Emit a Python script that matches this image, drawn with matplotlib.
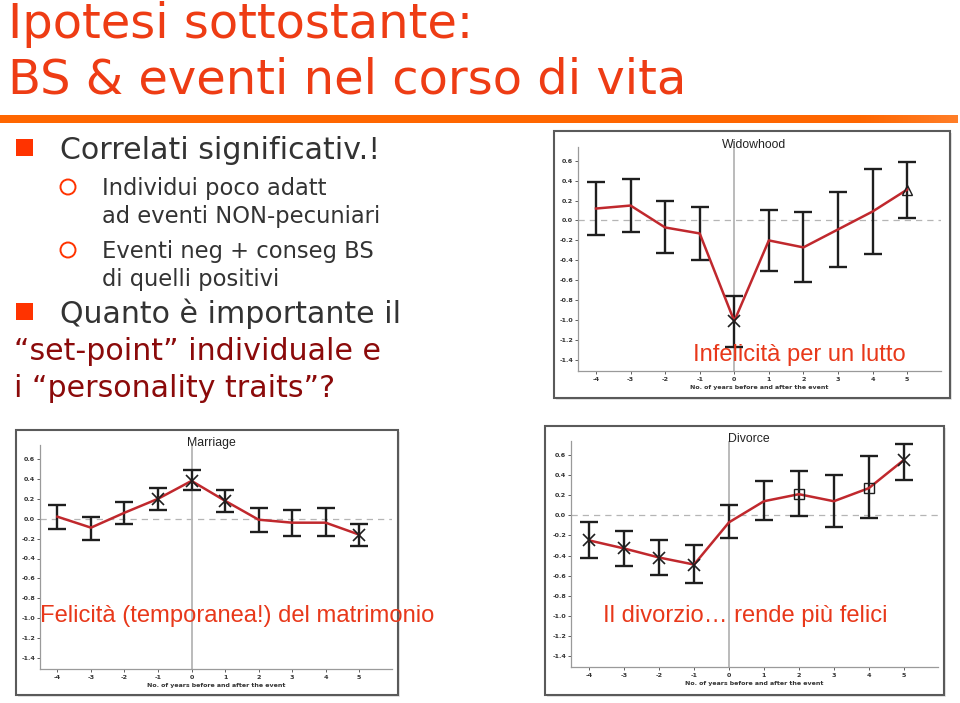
import matplotlib
matplotlib.use("Agg")
import matplotlib.pyplot as plt
from matplotlib.patches import Rectangle, Ellipse
import numpy as np

plt.rcParams['axes.unicode_minus'] = False

# ---------------- data ----------------
years = [-4, -3, -2, -1, 0, 1, 2, 3, 4, 5]

widow_mean = [0.12, 0.15, -0.07, -0.13, -1.01, -0.20, -0.27, -0.09, 0.09, 0.31]
widow_lo = [-0.15, -0.12, -0.33, -0.40, -1.27, -0.51, -0.62, -0.47, -0.34, 0.03]
widow_hi = [0.39, 0.42, 0.20, 0.14, -0.76, 0.11, 0.09, 0.29, 0.52, 0.59]
widow_markers = [None, None, None, None, 'x', None, None, None, None, '^']

marriage_mean = [0.02, -0.09, 0.06, 0.20, 0.38, 0.18, -0.01, -0.04, -0.04, -0.16]
marriage_lo = [-0.10, -0.21, -0.05, 0.09, 0.29, 0.07, -0.13, -0.17, -0.17, -0.27]
marriage_hi = [0.14, 0.02, 0.17, 0.31, 0.49, 0.29, 0.11, 0.09, 0.11, -0.05]
marriage_markers = [None, None, None, 'x', 'x', 'x', None, None, None, 'x']

divorce_mean = [-0.25, -0.33, -0.42, -0.49, -0.07, 0.14, 0.21, 0.14, 0.27, 0.55]
divorce_lo = [-0.42, -0.50, -0.59, -0.67, -0.23, -0.05, -0.01, -0.12, -0.03, 0.35]
divorce_hi = [-0.07, -0.16, -0.25, -0.30, 0.10, 0.34, 0.44, 0.40, 0.59, 0.71]
divorce_markers = ['x', 'x', 'x', 'x', None, None, 's', None, 's', 'x']

ytick_values = [0.6, 0.4, 0.2, 0.0, -0.2, -0.4, -0.6, -0.8, -1.0, -1.2, -1.4]
ytick_labels = ["0.6", "0.4", "0.2", "0.0", "-0.2", "-0.4", "-0.6", "-0.8", "-1.0", "-1.2", "-1.4"]
xtick_labels = ["-4", "-3", "-2", "-1", "0", "1", "2", "3", "4", "5"]
xlabel_text = "No. of years before and after the event"

# ---------------- figure ----------------
W, H = 960, 703
fig = plt.figure(figsize=(9.6, 7.03), dpi=100)
fig.patch.set_facecolor('white')


def fx(x):
    return x / W


def fy(y):
    return 1 - y / H


def px2pt(p):
    return p * 0.72


TITLE_C = '#EE3C14'
TEXT_C = '#333333'
BULLET_C = '#FF3300'
DARKRED = '#8B0A0A'
OVERLAY_C = '#E8381A'

# title
fig.text(fx(8), fy(38), "Ipotesi sottostante:", fontsize=px2pt(48), color=TITLE_C,
         family='DejaVu Sans', va='baseline', ha='left')
fig.text(fx(8), fy(93), "BS & eventi nel corso di vita", fontsize=px2pt(48), color=TITLE_C,
         family='DejaVu Sans', va='baseline', ha='left')

# orange rule with fade on the right
strip = fig.add_axes([0, fy(123), fx(958), (123 - 115) / H])
grad = np.linspace(0, 1, 400)
rgb = np.zeros((1, 400, 4))
rgb[..., 0] = 1.0
rgb[..., 1] = 0.40
rgb[..., 2] = 0.0
rgb[..., 3] = np.where(grad < 0.9, 1.0, 1.0 - (grad - 0.9) / 0.1 * 0.15)
strip.imshow(rgb, aspect='auto', extent=[0, 1, 0, 1])
strip.set_axis_off()


# bullets
def square(x0, y0, x1, y1):
    fig.patches.append(Rectangle((fx(x0), fy(y1)), fx(x1) - fx(x0), fy(y0) - fy(y1),
                                 transform=fig.transFigure, facecolor=BULLET_C,
                                 edgecolor='none'))


def ring(cx, cy, r):
    fig.patches.append(Ellipse((fx(cx), fy(cy)), 2 * r / W, 2 * r / H,
                               transform=fig.transFigure,
                               facecolor='none', edgecolor=BULLET_C, lw=1.4))


square(16, 139, 33, 156)
fig.text(fx(60), fy(159), "Correlati significativ.!", fontsize=px2pt(30), color=TEXT_C,
         family='DejaVu Sans', va='baseline')
ring(68, 187, 7.5)
fig.text(fx(102), fy(195), "Individui poco adatt", fontsize=px2pt(22.6), color=TEXT_C,
         family='DejaVu Sans', va='baseline')
fig.text(fx(102), fy(223), "ad eventi NON-pecuniari", fontsize=px2pt(22.6), color=TEXT_C,
         family='DejaVu Sans', va='baseline')
ring(68, 250, 7.5)
fig.text(fx(102), fy(258), "Eventi neg + conseg BS", fontsize=px2pt(22.6), color=TEXT_C,
         family='DejaVu Sans', va='baseline')
fig.text(fx(102), fy(286), "di quelli positivi", fontsize=px2pt(22.6), color=TEXT_C,
         family='DejaVu Sans', va='baseline')
square(16, 303, 33, 320)
fig.text(fx(60), fy(323), "Quanto è importante il", fontsize=px2pt(30), color=TEXT_C,
         family='DejaVu Sans', va='baseline')
fig.text(fx(14), fy(360), "\u201cset-point\u201d individuale e", fontsize=px2pt(30), color=DARKRED,
         family='DejaVu Sans', va='baseline')
fig.text(fx(14), fy(397), "i \u201cpersonality traits\u201d?", fontsize=px2pt(30), color=DARKRED,
         family='DejaVu Sans', va='baseline')


# ---------------- charts ----------------
def frame(x0, y0, x1, y1):
    fig.patches.append(Rectangle((fx(x0 + 2), fy(y1 + 2)), fx(x1) - fx(x0), fy(y0) - fy(y1),
                                 transform=fig.transFigure, facecolor='#e6e6e6',
                                 edgecolor='none', zorder=-6))
    fig.patches.append(Rectangle((fx(x0), fy(y1)), fx(x1) - fx(x0), fy(y0) - fy(y1),
                                 transform=fig.transFigure, facecolor='white',
                                 edgecolor='#5a5a5a', lw=1.5, zorder=-5))


YMIN, YMAX = -1.51, 0.74


def chart(xl, xr, y_top_tick, y_bot_tick, title, title_y, mean, lo, hi, markers):
    # y_top_tick / y_bot_tick: pixel rows of the 0.6 and -1.4 ticks
    scale = (y_bot_tick - y_top_tick) / 2.0
    y0 = y_top_tick - (YMAX - 0.6) * scale
    y1 = y_bot_tick + (-1.4 - YMIN) * scale
    ax = fig.add_axes([fx(xl), fy(y1), fx(xr) - fx(xl), fy(y0) - fy(y1)])
    ax.set_facecolor('none')
    ax.set_xlim(-4.52, 5.98)
    ax.set_ylim(YMIN, YMAX)
    ax.axvline(0, color='#b5b5b5', lw=1.3, zorder=1)
    ax.axhline(0, color='#b5b5b5', lw=0.9, ls=(0, (5, 4)), zorder=1)
    m = np.array(mean)
    err = [m - np.array(lo), np.array(hi) - m]
    ax.errorbar(years, m, yerr=err, fmt='none', ecolor='#1e1e1e', elinewidth=1.7,
                capsize=6.2, capthick=1.7, zorder=2)
    ax.plot(years, m, color='#C0282D', lw=1.8, zorder=3)
    for xv, yv, mk in zip(years, m, markers):
        if mk is None:
            continue
        if mk == 'x':
            ax.plot([xv], [yv], marker='x', ms=8, mew=1.2, color='#1e1e1e', zorder=4)
        else:
            ax.plot([xv], [yv], marker=mk, ms=6.5, mew=1.0, mfc='none', mec='#1e1e1e', zorder=4)
    for s in ['top', 'right']:
        ax.spines[s].set_visible(False)
    ax.spines['left'].set_color('#9a9a9a')
    ax.spines['bottom'].set_color('#9a9a9a')
    ax.spines['left'].set_linewidth(0.9)
    ax.spines['bottom'].set_linewidth(0.9)
    ax.set_yticks(ytick_values)
    ax.set_yticklabels(ytick_labels)
    ax.set_xticks(years)
    ax.set_xticklabels(xtick_labels)
    ax.tick_params(axis='y', length=2.5, width=0.6, color='#444', pad=1,
                   labelsize=4.6, labelcolor='#333')
    ax.tick_params(axis='x', length=2.5, width=0.6, color='#444', pad=2,
                   labelsize=4.6, labelcolor='#333')
    for lab in ax.get_xticklabels() + ax.get_yticklabels():
        lab.set_fontweight('bold')
    ax.set_xlabel(xlabel_text, fontsize=4.5, fontweight='bold', color='#333', labelpad=2)
    # chart title, centred over the zero line
    x_zero_px = xl + (0 - (-4.52)) / (5.98 - (-4.52)) * (xr - xl)
    fig.text(fx(x_zero_px + 20), fy(title_y), title, fontsize=8.8, color='#222',
             family='Liberation Sans', ha='center', va='center')
    return ax


frame(554, 131, 950, 398)
chart(578, 941, 160.7, 360, "Widowhood", 145, widow_mean, widow_lo, widow_hi, widow_markers)

frame(16, 430, 398, 695)
chart(40, 392, 459, 658, "Marriage", 443, marriage_mean, marriage_lo, marriage_hi,
      marriage_markers)

frame(545, 426, 944, 695)
chart(571, 938, 455, 656, "Divorce", 439, divorce_mean, divorce_lo, divorce_hi,
      divorce_markers)

# overlay captions
fig.text(fx(693), fy(361), "Infelicità per un lutto", fontsize=px2pt(23.7), color=OVERLAY_C,
         family='Liberation Sans', va='baseline', zorder=10)
fig.text(fx(40), fy(622), "Felicità (temporanea!) del matrimonio", fontsize=px2pt(23.7),
         color=OVERLAY_C, family='Liberation Sans', va='baseline', zorder=10)
fig.text(fx(603), fy(622), "Il divorzio\u2026 rende più felici", fontsize=px2pt(23.7),
         color=OVERLAY_C, family='Liberation Sans', va='baseline', zorder=10)

fig.savefig("out.png", dpi=100, facecolor='white')
